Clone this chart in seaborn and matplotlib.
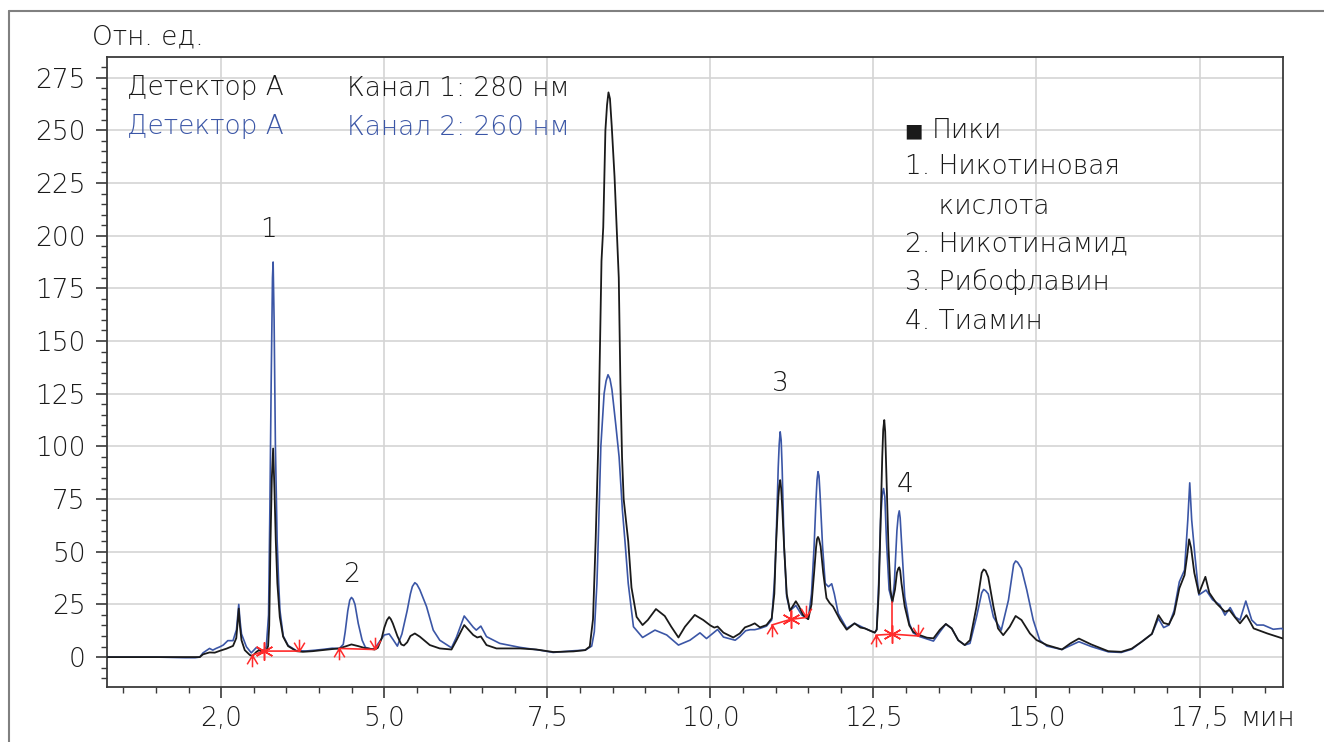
import numpy as np
import pandas as pd
import matplotlib
matplotlib.use("Agg")
import matplotlib.pyplot as plt
import seaborn as sns
from matplotlib.lines import Line2D
from matplotlib.path import Path
from matplotlib.ticker import MultipleLocator

# Канал 1: 280 нм (чёрная линия)
ch1_t = [0.74, 1.50, 2.17, 2.22, 2.32, 2.40, 2.48, 2.58, 2.68, 2.73, 2.75, 2.768, 2.785,
         2.81, 2.86, 2.937, 2.978, 3.04, 3.08, 3.142, 3.193, 3.218, 3.235, 3.255, 3.275,
         3.295, 3.315, 3.336, 3.36, 3.397, 3.448, 3.525, 3.653, 3.75, 3.90, 4.05, 4.20,
         4.31, 4.40, 4.496, 4.60, 4.70, 4.854, 4.90, 4.96, 5.00, 5.04, 5.074, 5.10, 5.13,
         5.20, 5.26, 5.30, 5.35, 5.40, 5.468, 5.544, 5.698, 5.85, 6.03, 6.107, 6.225,
         6.363, 6.425, 6.48, 6.567, 6.72, 7.08, 7.33, 7.59, 7.90, 8.08, 8.15, 8.20, 8.24,
         8.28, 8.33, 8.357, 8.39, 8.415, 8.437, 8.46, 8.487, 8.53, 8.56, 8.595, 8.62,
         8.645, 8.67, 8.74, 8.79, 8.868, 8.96, 9.04, 9.165, 9.30, 9.40, 9.51, 9.61, 9.76,
         9.89, 10.0, 10.06, 10.11, 10.20, 10.35, 10.45, 10.53, 10.61, 10.68, 10.76, 10.86,
         10.94, 10.98, 11.005, 11.04, 11.055, 11.07, 11.085, 11.10, 11.13, 11.17, 11.22,
         11.27, 11.31, 11.36, 11.42, 11.50, 11.55, 11.59, 11.62, 11.635, 11.65, 11.665,
         11.69, 11.73, 11.78, 11.83, 11.88, 11.99, 12.09, 12.21, 12.30, 12.37, 12.45,
         12.52, 12.55, 12.58, 12.60, 12.635, 12.65, 12.666, 12.68, 12.70, 12.73, 12.76,
         12.79, 12.83, 12.86, 12.88, 12.896, 12.91, 12.93, 12.98, 13.05, 13.11, 13.21,
         13.32, 13.42, 13.52, 13.61, 13.70, 13.80, 13.90, 13.98, 14.08, 14.16, 14.19,
         14.22, 14.26, 14.34, 14.41, 14.49, 14.59, 14.68, 14.77, 14.90, 15.00, 15.16,
         15.39, 15.52, 15.65, 15.84, 16.10, 16.30, 16.46, 16.61, 16.77, 16.87, 16.95,
         17.03, 17.11, 17.19, 17.27, 17.31, 17.34, 17.37, 17.42, 17.49, 17.59, 17.65,
         17.76, 17.89, 17.96, 18.04, 18.12, 18.22, 18.33, 18.54, 18.74, 18.89]
ch1_v = [0, 0, 0, 1.3, 2.2, 2.1, 3.0, 4.0, 5.3, 9, 16, 23, 15,
         8, 3.3, 1.0, 0.5, 2.5, 3.3, 2.1, 3.3, 5.2, 15, 55, 85,
         99, 80, 55, 35, 19, 9.7, 5.2, 2.8, 2.5, 2.8, 3.3, 3.8,
         4.1, 5, 6, 5.2, 4.3, 3.6, 4.4, 9, 14, 17.5, 19, 18, 16,
         10, 6, 5.5, 7, 10, 11.2, 9.7, 5.7, 4.1, 3.6, 8, 15.2,
         10.5, 9.3, 9.8, 5.7, 4.1, 4.1, 3.6, 2.4, 2.7, 3.3, 5, 18, 55,
         100, 188, 204, 250, 262, 268, 265, 252, 228, 206, 180, 130,
         95, 75, 55, 33, 19.1, 15.2, 17.6, 22.8, 19.5, 14.4, 9.3, 14.4, 20,
         17.6, 15, 14, 14.5, 11.6, 9.3, 11.2, 14.1, 15, 16, 14.1, 15.2,
         18.4, 30, 52.5, 75, 81, 84, 80, 72, 52.5, 30, 22,
         24.5, 26.5, 24, 20, 18, 25, 40, 52, 56, 57, 56,
         52.5, 40, 28, 25.6, 24, 17.6, 13, 16, 14, 13.6, 12.5,
         11.6, 13, 30, 52.5, 95, 108, 112.5, 107, 85, 52.5, 32,
         26.2, 32, 40, 42, 42.6, 41, 35, 24, 15, 12, 10.4,
         9.2, 8.9, 13, 15.7, 13.6, 8, 5.7, 8, 23.9, 40, 41.6,
         41, 38, 23.9, 13.6, 10.4, 14.4, 19.5, 17.6, 11.2, 8.1, 5.7,
         3.6, 6.5, 8.8, 6.0, 2.8, 2.5, 4.0, 7.2, 11, 19.9, 16.2,
         15.5, 20.5, 32.6, 38.9, 48, 55.9, 52, 40, 30.2, 38.1, 30.5,
         25.5, 21.5, 22.3, 19, 16, 19.9, 13.6, 11.2, 9.2, 7.6]

# Канал 2: 260 нм (синяя линия)
ch2_t = [0.74, 1.50, 1.95, 2.10, 2.17, 2.22, 2.32, 2.37, 2.42, 2.48, 2.53, 2.60, 2.68,
         2.733, 2.75, 2.768, 2.785, 2.81, 2.885, 2.96, 3.04, 3.09, 3.142, 3.19, 3.225,
         3.245, 3.265, 3.285, 3.295, 3.31, 3.33, 3.357, 3.38, 3.40, 3.45, 3.525, 3.653,
         3.80, 3.95, 4.10, 4.20, 4.31, 4.37, 4.40, 4.44, 4.47, 4.496, 4.52, 4.55, 4.60,
         4.66, 4.71, 4.80, 4.854, 4.93, 5.00, 5.074, 5.13, 5.20, 5.27, 5.35, 5.40, 5.43,
         5.468, 5.50, 5.544, 5.647, 5.75, 5.85, 6.03, 6.107, 6.225, 6.363, 6.41, 6.48,
         6.567, 6.77, 7.08, 7.38, 7.59, 7.90, 8.08, 8.18, 8.22, 8.26, 8.28, 8.32, 8.37,
         8.40, 8.43, 8.46, 8.49, 8.55, 8.60, 8.65, 8.69, 8.74, 8.79, 8.82, 8.96, 9.15,
         9.33, 9.51, 9.686, 9.84, 9.94, 10.11, 10.20, 10.38, 10.45, 10.54, 10.61, 10.68,
         10.76, 10.86, 10.94, 10.98, 11.005, 11.04, 11.055, 11.07, 11.085, 11.10, 11.13,
         11.17, 11.22, 11.31, 11.40, 11.50, 11.55, 11.59, 11.62, 11.635, 11.65, 11.665,
         11.68, 11.72, 11.76, 11.81, 11.86, 11.90, 11.96, 12.09, 12.21, 12.37, 12.52,
         12.55, 12.58, 12.61, 12.635, 12.655, 12.675, 12.70, 12.74, 12.79, 12.82, 12.86,
         12.88, 12.896, 12.91, 12.93, 12.98, 13.05, 13.11, 13.21, 13.42, 13.52, 13.61,
         13.70, 13.80, 13.90, 13.98, 14.08, 14.16, 14.19, 14.22, 14.26, 14.34, 14.46,
         14.57, 14.65, 14.68, 14.71, 14.77, 14.85, 14.95, 15.05, 15.16, 15.39, 15.65,
         15.84, 16.10, 16.30, 16.46, 16.61, 16.77, 16.87, 16.95, 17.03, 17.11, 17.19,
         17.27, 17.32, 17.35, 17.38, 17.43, 17.49, 17.60, 17.70, 17.81, 17.89, 17.97,
         18.05, 18.12, 18.21, 18.30, 18.38, 18.48, 18.63, 18.76, 18.89]
ch2_v = [0, 0, -0.3, -0.3, 0, 2.0, 4.1, 3.3, 4.1, 4.9, 5.7, 7.8, 7.8,
         13, 19, 25, 18, 11, 4.9, 2.0, 4.6, 3.6, 2.9, 4.9, 20,
         70, 130, 180, 187.5, 160, 100, 55, 35, 22, 10, 5.5, 3.0,
         2.9, 3.3, 3.8, 4.2, 4.1, 6, 12, 22, 27, 28.3, 27.5, 25, 16,
         8, 4.6, 3.8, 4.1, 7.5, 10.5, 11, 8.5, 5.2, 11, 22, 30, 33.5,
         35.3, 34.5, 32, 24, 12.8, 8, 4.4, 9.5, 19.5, 14.2, 12.8, 14.7,
         9.7, 6.5, 4.6, 3.3, 2.2, 3.0, 3.3, 5.2, 12, 35, 55, 100, 125,
         131, 134, 132, 127, 110, 95, 70, 55, 35, 22, 14.4, 9.3, 12.8,
         10.5, 5.7, 8, 11.5, 8.8, 13.1, 9.5, 8, 9.7, 12.5, 13, 13,
         13.6, 14.7, 17.6, 35, 52.5, 90, 101, 106.9, 103, 90, 52.5,
         28.6, 22, 24.5, 20, 18, 30, 52.5, 75, 84, 88, 86,
         78, 52.5, 35, 33.4, 34.8, 30, 20.7, 13.6, 16, 13.6, 11.6,
         13, 35, 65, 77, 80, 76, 55, 32, 26, 35, 60,
         67, 69.4, 66, 55, 28.6, 16, 11.5, 9.7, 7.6, 12, 15.7,
         13.6, 8, 5.7, 6.5, 19, 30.5, 32.1, 31.5, 30, 19, 12.8,
         27, 44, 45.6, 45, 42, 32, 17.6, 8, 5.2, 3.6, 7.3,
         5, 2.5, 2.2, 3.7, 7.2, 11, 18.3, 14, 15.2, 22, 35.7,
         41.3, 65, 82.7, 65, 48, 29.5, 31.8, 27.2, 24.8, 19.9, 23.5,
         19, 17.6, 26.6, 17.6, 15.2, 15.2, 13.2, 13.6, 10]

# Базовые линии интегрирования (красные)
base_segments = [
    ([2.978, 3.153, 3.696], [0.95, 2.85, 2.85]),
    ([4.307, 4.854], [4.1, 3.6]),
    ([10.94, 11.23, 11.47], [15.2, 17.9, 18.8]),
    ([12.538, 12.79, 13.19], [10.4, 10.9, 10.0]),
]
peak_start = ([2.978, 4.307, 10.94, 12.538], [0.95, 4.1, 15.2, 10.4])
peak_end = ([3.696, 4.854, 11.47, 13.19], [2.85, 3.6, 18.8, 10.0])
peak_split = ([3.153, 11.23, 12.79], [2.85, 17.9, 10.9])
split_top = [2.85, 21.5, 26.2]

# Номера пиков
peak_num = ["1", "2", "3", "4"]
peak_num_t = [3.23, 4.50, 11.07, 12.98]
peak_num_v = [203, 39.4, 130, 82]

legend_lines = ["Пики", "1. Никотиновая", "    кислота",
                "2. Никотинамид", "3. Рибофлавин", "4. Тиамин"]

x_ticks = [2.5, 5.0, 7.5, 10.0, 12.5, 15.0, 17.5]
x_tick_labels = ["2,0", "5,0", "7,5", "10,0", "12,5", "15,0", "17,5"]
y_ticks = list(range(0, 276, 25))

BLACK = "#1a1a1a"
BLUE = "#3b56a6"
RED = "#ff2b2b"
GRID = "#d4d4d4"
FS = 19

# ─── Оформление ───────────────────────────────────────────────────────────────

sns.set_style("white")
plt.rcParams["font.family"] = ["DejaVu Sans"]
plt.rcParams["font.weight"] = "light"

W, H = 1324, 742
fig = plt.figure(figsize=(W / 100, H / 100), dpi=100)
ax = fig.add_axes([106.5 / W, 1 - 687 / H, (1283 - 106.5) / W, (687 - 57) / H])

df1 = pd.DataFrame({"t": ch1_t, "v": ch1_v})
df2 = pd.DataFrame({"t": ch2_t, "v": ch2_v})

sns.lineplot(data=df2, x="t", y="v", ax=ax, color=BLUE, lw=1.2,
             estimator=None, sort=False, zorder=3)
sns.lineplot(data=df1, x="t", y="v", ax=ax, color=BLACK, lw=1.3,
             estimator=None, sort=False, zorder=4)

# Маркеры интегрирования
down_mark = Path([(0, 0), (0, -1), (0, 0), (-0.45, -0.75), (0, 0), (0.45, -0.75)],
                 [Path.MOVETO, Path.LINETO] * 3)
up_mark = Path([(0, 0), (0, 1), (0, 0), (-0.45, 0.75), (0, 0), (0.45, 0.75)],
               [Path.MOVETO, Path.LINETO] * 3)

for seg_t, seg_v in base_segments:
    ax.plot(seg_t, seg_v, color=RED, lw=1.2, zorder=5)
for st, sv, top in zip(peak_split[0], peak_split[1], split_top):
    ax.plot([st, st], [sv, top], color=RED, lw=1.2, zorder=5)
ax.plot(*peak_start, ls="none", marker=down_mark, ms=17, mec=RED, mew=1.1, zorder=6)
ax.plot(*peak_end, ls="none", marker=up_mark, ms=17, mec=RED, mew=1.1, zorder=6)
ax.plot(*peak_split, ls="none", marker=(6, 2, 0), ms=13, mec=RED, mew=1.1, zorder=6)

for lab, pt, pv in zip(peak_num, peak_num_t, peak_num_v):
    ax.text(pt, pv, lab, fontsize=FS, color=BLACK, ha="center", va="center")

# Оси
ax.set_xlim(0.74, 18.78)
ax.set_ylim(-14.2, 284.8)
ax.set_xticks(x_ticks)
ax.set_xticklabels(x_tick_labels)
ax.set_yticks(y_ticks)
ax.xaxis.set_minor_locator(MultipleLocator(0.5))
ax.yaxis.set_minor_locator(MultipleLocator(5))
ax.set_xlabel("")
ax.set_ylabel("")
ax.grid(True, which="major", color=GRID, lw=1.2, zorder=0)
ax.set_axisbelow(True)

for sp in ax.spines.values():
    sp.set_visible(True)
    sp.set_color("#3a3a3a")
    sp.set_linewidth(1.3)

ax.tick_params(axis="both", which="major", direction="out", length=8,
               width=1.2, color="#3a3a3a", labelsize=FS, labelcolor=BLACK)
ax.tick_params(axis="both", which="minor", direction="out", length=4.5,
               width=1.0, color="#3a3a3a")
ax.tick_params(axis="x", which="major", pad=6)
ax.tick_params(axis="y", which="major", pad=7)
ax.tick_params(bottom=True, left=True, which="both")

# Подписи каналов
ax.text(0.0174, 0.951, "Детектор А", transform=ax.transAxes, fontsize=FS,
        color=BLACK, ha="left", va="center")
ax.text(0.2044, 0.951, "Канал 1: 280 нм", transform=ax.transAxes, fontsize=FS,
        color=BLACK, ha="left", va="center")
ax.text(0.0174, 0.889, "Детектор А", transform=ax.transAxes, fontsize=FS,
        color=BLUE, ha="left", va="center")
ax.text(0.2044, 0.889, "Канал 2: 260 нм", transform=ax.transAxes, fontsize=FS,
        color=BLUE, ha="left", va="center")

# Список пиков
legend_y = [130, 167, 206, 244, 282, 321]
legend_x = [932, 905, 905, 905, 905, 905]
for txt, px, py in zip(legend_lines, legend_x, legend_y):
    fig.text(px / W, 1 - py / H, txt, fontsize=FS, color=BLACK,
             ha="left", va="center")
fig.text(904 / W, 1 - 131 / H, "\u25a0", fontsize=14, color=BLACK,
         family=["DejaVu Sans"], fontweight="normal", ha="left", va="center")

fig.text(92 / W, 1 - 37 / H, "Отн. ед.", fontsize=FS, color=BLACK,
         ha="left", va="center")
fig.text(1240 / W, 1 - 718 / H, "мин", fontsize=FS, color=BLACK,
         ha="left", va="center")

# Внешняя рамка
fig.add_artist(Line2D([9 / W, 9 / W], [0, 1 - 11 / H], transform=fig.transFigure,
                      color="#808080", lw=1.5))
fig.add_artist(Line2D([9 / W, 1], [1 - 11 / H, 1 - 11 / H], transform=fig.transFigure,
                      color="#808080", lw=1.5))

fig.savefig("out.png", dpi=100)
